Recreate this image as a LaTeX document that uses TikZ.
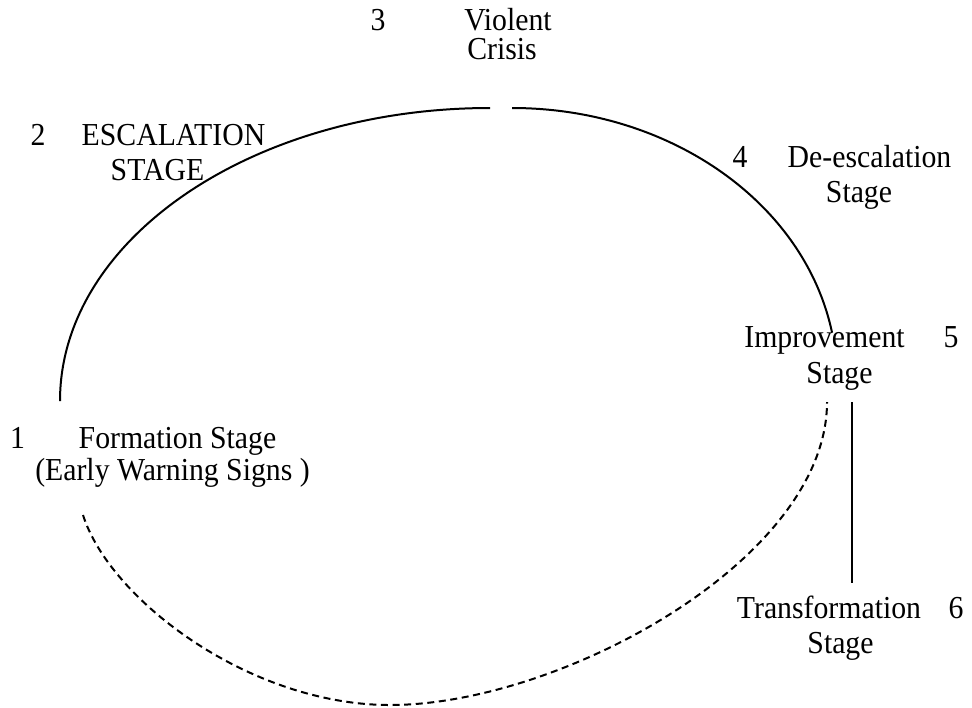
\documentclass[tikz,border=0pt]{standalone}
\usepackage{fontspec}
\setmainfont{Liberation Serif}[FakeStretch=0.93]
\begin{document}
\begin{tikzpicture}[x=0.5pt,y=-0.5pt,
  lbl/.style={anchor=base,inner sep=0pt,font=\fontsize{16}{18}\selectfont},
  solidline/.style={line width=1pt,black},
  dashline/.style={line width=1pt,black,dash pattern=on 3.5pt off 2.3pt}]
\useasboundingbox (0,0) rectangle (972,707);
% labels
\node[lbl] (n3) at (378,30) {3};
\node[lbl] (violent) at (508,30) {Violent};
\node[lbl] (crisis) at (502,59) {Crisis};
\node[lbl] (n2) at (38,145) {2};
\node[lbl] (escal) at (173.5,145) {ESCALATION};
\node[lbl] (escalstage) at (157.5,180) {STAGE};
\node[lbl] (n1) at (17.5,448) {1};
\node[lbl] (formation) at (177.5,448) {Formation Stage};
\node[lbl] (early) at (172.5,480) {(Early Warning Signs )};
\node[lbl] (n4) at (740,167) {4};
\node[lbl] (deesc) at (869.5,167) {De-escalation};
\node[lbl] (deescstage) at (859,202) {Stage};
\node[lbl] (improv) at (824.5,347) {Improvement};
\node[lbl] (n5) at (951,347) {5};
\node[lbl] (improvstage) at (839.5,383) {Stage};
\node[lbl] (transf) at (829,618) {Transformation};
\node[lbl] (n6) at (956,618) {6};
\node[lbl] (transfstage) at (840.5,653) {Stage};
% connector end points
\coordinate (leftlow) at (60,401);
\coordinate (toprightstart) at (512,108);
\coordinate (dashstart) at (83,515);
\coordinate (dashbottom) at (390,705);
\coordinate (dashend) at (827,402);
\coordinate (vtop) at (852,402);
\coordinate (vbot) at (852,583);
% solid arcs
\draw[solidline] (leftlow) arc[start angle=180,end angle=270,x radius=430,y radius=293];
\draw[solidline] (toprightstart) arc[start angle=270,end angle=350,x radius=325,y radius=272];
% dashed return curve
\draw[dashline] (dashstart) .. controls (110,600) and (250,705) .. (dashbottom)
  .. controls (560,705) and (827,560) .. (dashend);
% vertical line
\draw[line width=0.9pt] (vtop) -- (vbot);
\end{tikzpicture}
\end{document}
